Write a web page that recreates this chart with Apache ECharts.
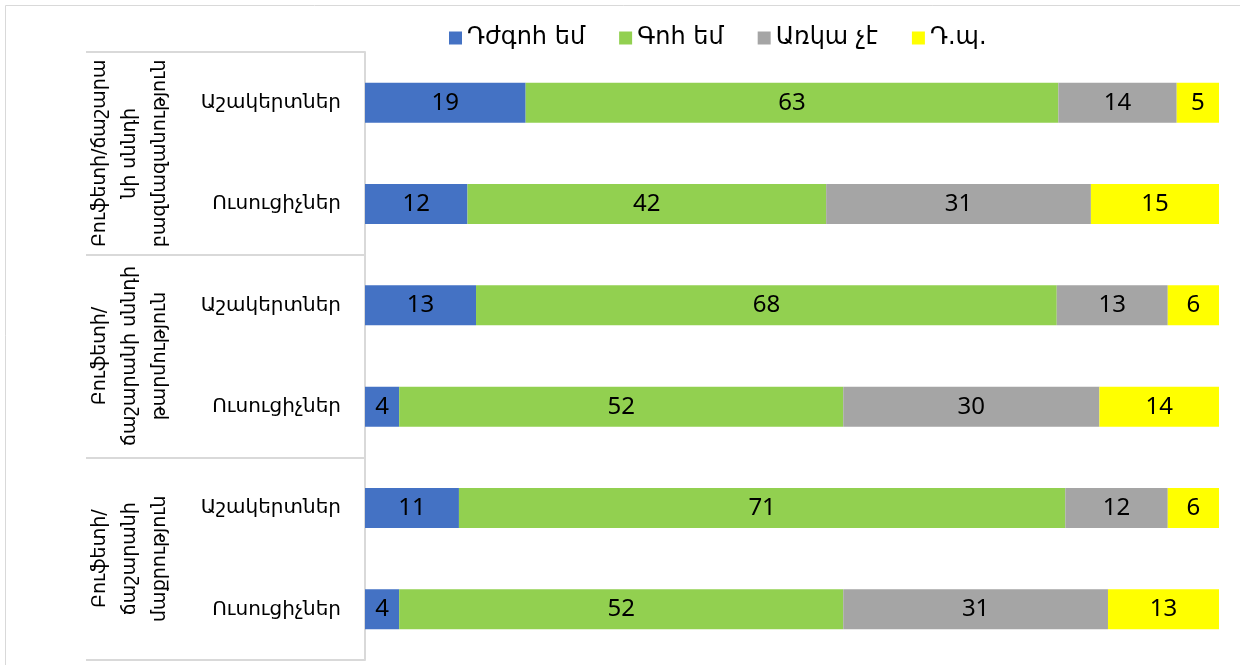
<!DOCTYPE html>
<html>
<head>
<meta charset="utf-8">
<script src="https://cdn.jsdelivr.net/npm/echarts@6/dist/echarts.min.js"></script>
<style>
  html, body { margin: 0; padding: 0; background: #fff; }
  #chart { width: 1240px; height: 665px; }
</style>
</head>
<body>
<div id="chart"></div>
<script>
const groups = [
  'Բուֆետի/ճաշարա\nնի սննդի\nբազմազանություն',
  'Բուֆետի/\nճաշարանի սննդի\nթարմություն',
  'Բուֆետի/\nճաշարանի\nմաքրություն'
];
const rows = ['Աշակերտներ', 'Ուսուցիչներ', 'Աշակերտներ', 'Ուսուցիչներ', 'Աշակերտներ', 'Ուսուցիչներ'];
const seriesNames = ['Դժգոհ եմ', 'Գոհ եմ', 'Առկա չէ', 'Դ.պ.'];
const dissatisfied = [19, 12, 13, 4, 11, 4];
const satisfied = [63, 42, 68, 52, 71, 52];
const notAvailable = [14, 31, 13, 30, 12, 31];
const dontKnow = [5, 15, 6, 14, 6, 13];
const colors = ['#4472C4', '#92D050', '#A5A5A5', '#FFFF00'];

const FONT = "'DejaVu Sans', sans-serif";
const NUM_FONT = "'Noto Sans', 'DejaVu Sans', sans-serif";
const values = [dissatisfied, satisfied, notAvailable, dontKnow];
// 100% stacked: each row normalised to its own total
const totals = rows.map((_, i) => values.reduce((s, arr) => s + arr[i], 0));

const chart = echarts.init(document.getElementById('chart'));

const option = {
  animation: false,
  textStyle: { fontFamily: FONT },
  graphic: [
    {
      type: 'rect',
      shape: { x: 5.5, y: 5.5, width: 2000, height: 1000 },
      style: { fill: 'none', stroke: '#d9d9d9', lineWidth: 1 },
      silent: true
    }
  ],
  legend: {
    top: 21,
    left: 444,
    itemWidth: 13,
    itemHeight: 13,
    itemGap: 34,
    icon: 'rect',
    textStyle: { fontFamily: FONT, fontSize: 24, color: '#000' },
    data: seriesNames
  },
  grid: {
    left: 365,
    right: 21,
    top: 52,
    bottom: 5
  },
  xAxis: {
    type: 'value',
    min: 0,
    max: 100,
    show: false
  },
  yAxis: [
    {
      type: 'category',
      data: rows,
      inverse: true,
      axisLine: { show: true, lineStyle: { color: '#d9d9d9', width: 2 } },
      axisTick: { show: false },
      axisLabel: { interval: 0, margin: 24, fontSize: 20, color: '#000', fontFamily: FONT }
    },
    {
      type: 'category',
      data: groups,
      inverse: true,
      position: 'left',
      axisLine: { show: false },
      axisTick: { show: true, interval: 0, length: 279, lineStyle: { color: '#d9d9d9', width: 2 } },
      axisLabel: {
        interval: 0,
        rotate: 90,
        margin: 190,
        fontSize: 19,
        lineHeight: 30,
        color: '#000',
        fontFamily: FONT
      }
    }
  ],
  series: values.map((arr, k) => ({
    name: seriesNames[k],
    type: 'bar',
    stack: 'total',
    barWidth: 40,
    itemStyle: { color: colors[k] },
    label: {
      show: true,
      position: 'inside',
      color: '#000',
      fontSize: 24,
      fontFamily: NUM_FONT,
      formatter: (p) => arr[p.dataIndex]
    },
    data: arr.map((v, i) => (v / totals[i]) * 100)
  }))
};

chart.setOption(option);
</script>
</body>
</html>
